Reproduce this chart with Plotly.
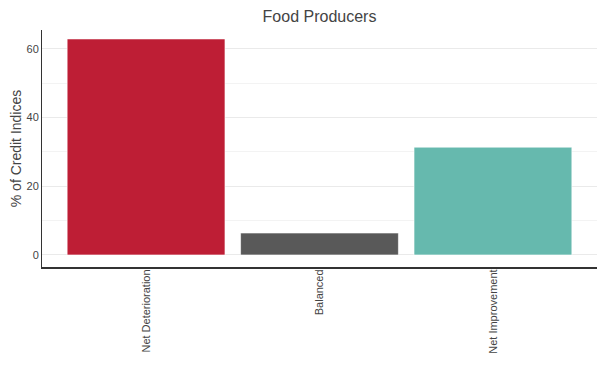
import plotly.graph_objects as go

categories = ["Net Deterioration", "Balanced", "Net Improvement"]
values = [62.9, 6.4, 31.4]
colors = ["#BE1E35", "#595959", "#66B9AE"]

fig = go.Figure()
fig.add_trace(go.Bar(
    x=categories, y=values,
    marker=dict(color=colors, line=dict(color="rgba(255,255,255,0.6)", width=1)),
    width=0.91,
))

# page body has an 8px offset; margins compensate so the plot sits where the reference does
fig.update_layout(
    width=605, height=378,
    margin=dict(l=34, r=16, t=22, b=119, autoexpand=False),
    paper_bgcolor="white", plot_bgcolor="white",
    font=dict(family="Liberation Sans, Arial, sans-serif", color="#444"),
    title=dict(text="Food Producers", x=(34 + (605 - 16)) / 2 / 605, xanchor="center",
               y=1 - 8 / 378, yanchor="middle",
               font=dict(size=16, color="#444")),
    showlegend=False,
)
fig.update_xaxes(
    range=[-0.6, 2.6], tickangle=-90, tickfont=dict(size=11, color="#444"), automargin=False,
    showline=True, linecolor="#333", linewidth=2, showgrid=False, ticks="",
    ticklabelstandoff=-4,
)
fig.update_yaxes(
    range=[-3.5, 65.5], dtick=20, tickfont=dict(size=11, color="#444"), automargin=False,
    title=dict(text="% of Credit Indices", font=dict(size=14, color="#444"), standoff=4),
    showline=True, linecolor="#333", linewidth=1, gridcolor="#eaeaea", zeroline=True,
    zerolinecolor="#eaeaea", zerolinewidth=1, ticks="",
    minor=dict(dtick=10, showgrid=True, gridcolor="#f3f3f3"),
)

fig.write_html("out.html")
